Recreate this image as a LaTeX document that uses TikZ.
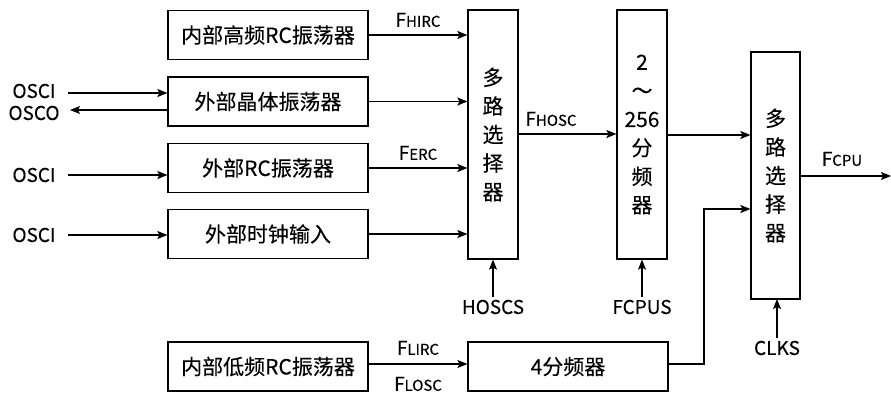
\documentclass[tikz,border=0pt]{standalone}
\usepackage{fontspec}
\setmainfont{Noto Sans CJK SC}[FakeBold=0.2]
\usetikzlibrary{arrows.meta}
\newcommand{\flab}[1]{{\fontsize{19}{19}\selectfont F}{\fontsize{15}{15}\selectfont #1}}
\tikzset{
  blk/.style={draw, line width=1.2pt, minimum width=200pt, minimum height=49pt, inner sep=0pt, font=\fontsize{21}{21}\selectfont},
  tall/.style={draw, line width=1.2pt, minimum width=50pt, inner sep=0pt, align=center, font=\fontsize{21}{28.6}\selectfont},
  conn/.style={line width=1.2pt, -{Stealth[length=10pt,width=8pt,inset=2pt]}},
  lab/.style={inner sep=0pt, font=\fontsize{19}{19}\selectfont},
}
\begin{document}
\begin{tikzpicture}[x=1pt,y=-1pt]
\useasboundingbox (0,0) rectangle (891,394);
% left boxes
\node[blk] (hirc) at (268,35) {内部高频RC振荡器};
\node[blk] (xtal) at (268,101.5) {外部晶体振荡器};
\node[blk] (erc) at (268,168) {外部RC振荡器};
\node[blk] (ext) at (268,234) {外部时钟输入};
\node[blk] (lirc) at (268,366.5) {内部低频RC振荡器};
% muxes and dividers
\node[tall, minimum height=249pt] (mux1) at (493,134.5) {多\\路\\选\\择\\器};
\node[tall, minimum height=249pt] (div) at (642,134.5) {2\\～\\256\\分\\频\\器};
\node[tall, minimum height=247pt, minimum width=49pt] (mux2) at (775.5,175.5) {多\\路\\选\\择\\器};
\node[blk] (div4) at (568,366.5) {4分频器};
% input labels
\node[lab] (osci1) at (34,91) {OSCI};
\node[lab] (osco) at (34,113) {OSCO};
\node[lab] (osci2) at (34,175) {OSCI};
\node[lab] (osci3) at (34,235) {OSCI};
\coordinate (a1) at (68,93);
\coordinate (a2) at (70,110);
\coordinate (a3) at (68,175);
\coordinate (a4) at (68,235);
\draw[conn] (a1) -- (a1 -| xtal.west);
\draw[conn] (a2 -| xtal.west) -- (a2);
\draw[conn] (a3) -- (a3 -| erc.west);
\draw[conn] (a4) -- (a4 -| ext.west);
% into mux1
\draw[conn] (hirc.east) -- (hirc.east -| mux1.west);
\draw[conn] (xtal.east) -- (xtal.east -| mux1.west);
\draw[conn] (erc.east) -- (erc.east -| mux1.west);
\draw[conn] (ext.east) -- (ext.east -| mux1.west);
\node[lab] (lhirc) at (418,20) {\flab{HIRC}};
\node[lab] (lerc) at (418,153) {\flab{ERC}};
% mux1 -> div
\coordinate (h) at (518,134);
\draw[conn] (h) -- (h -| div.west);
\node[lab] (lhosc) at (551,119) {\flab{HOSC}};
% div -> mux2
\coordinate (d) at (667,135);
\draw[conn] (d) -- (d -| mux2.west);
% lirc -> div4
\coordinate (l) at (368,364);
\draw[conn] (l) -- (l -| div4.west);
\node[lab] (llirc) at (418,348) {\flab{LIRC}};
\node[lab] (llosc) at (418,384) {\flab{LOSC}};
% div4 -> mux2
\coordinate (k1) at (704,364);
\coordinate (k2) at (704,209);
\draw[conn] (k1 -| div4.east) -- (k1) -- (k2) -- (k2 -| mux2.west);
% selects
\node[lab] (hoscs) at (493,307) {HOSCS};
\draw[conn] (hoscs.north) ++(0,-3) -- (mux1.south);
\node[lab] (fcpus) at (642,307) {FCPUS};
\draw[conn] (fcpus.north) ++(0,-3) -- (div.south);
\node[lab] (clks) at (777,348) {CLKS};
\coordinate (c) at (777,299);
\draw[conn] (clks.north) ++(0,-3) -- (c);
% output
\coordinate (o1) at (800,176);
\coordinate (o2) at (891,176);
\draw[conn] (o1) -- (o2);
\node[lab] (lcpu) at (842,159) {\flab{CPU}};
\end{tikzpicture}
\end{document}
